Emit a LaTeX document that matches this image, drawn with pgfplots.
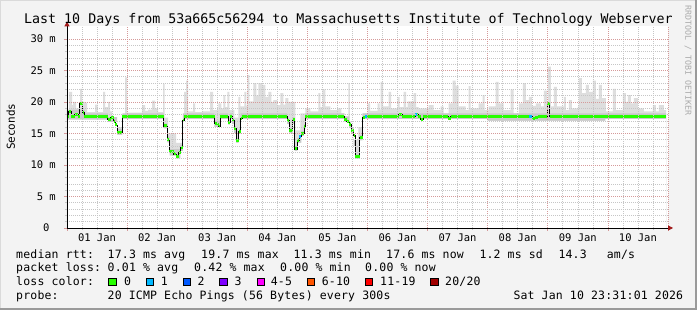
\documentclass[border=0pt]{standalone}
\usepackage{fontspec}
\setmainfont{DejaVu Sans Mono}
\newfontfamily\legfont[LetterSpace=1.6]{DejaVu Sans Mono}
\usepackage{pgfplots}
\usepackage{pgfplotstable}
\pgfplotsset{compat=1.18}
\usetikzlibrary{arrows.meta}
\definecolor{bg}{HTML}{F3F3F3}
\definecolor{shadea}{HTML}{DADADA}
\definecolor{shadeb}{HTML}{9A9A9A}
\definecolor{mgrid}{HTML}{D59A9A}
\definecolor{gridc}{HTML}{C6C6C6}
\definecolor{smoke}{HTML}{DEDEDE}
\definecolor{smokemid}{HTML}{C9C9C9}
\definecolor{arrowred}{HTML}{A01818}
\definecolor{wm}{HTML}{ABABAB}
\definecolor{lc0}{HTML}{26FF00}
\definecolor{lc1}{HTML}{00B8FF}
\definecolor{lc2}{HTML}{0059FF}
\definecolor{lc3}{HTML}{7E00FF}
\definecolor{lc4}{HTML}{FF00FF}
\definecolor{lc6}{HTML}{FF5500}
\definecolor{lc11}{HTML}{FF0000}
\definecolor{lc20}{HTML}{A10000}

\pgfplotstableread{
h v
0 18.7
0.8 21.6
2.0 19.5
2.4 20.0
3.6 19.0
5.2 22.1
6.0 20.0
7.2 19.9
8.0 18.4
11.2 19.6
12.2 18.4
14.4 21.6
15.2 19.2
16.4 20.0
17.2 18.5
18.0 17.6
19.2 16.0
22.0 18.0
23.2 23.9
24.0 18.3
30.0 19.5
31.2 18.6
32.4 18.8
34.0 20.2
35.2 19.0
36.4 18.4
38.4 22.9
39.0 17.5
40.4 15.0
43.6 13.5
46.0 16.5
46.8 21.6
47.6 23.4
48.4 18.5
50.4 19.8
51.2 18.4
54.4 18.5
57.2 21.6
58.4 18.7
60.4 19.8
61.6 19.0
62.4 21.1
63.2 19.2
64.0 21.6
64.8 18.7
66.8 17.5
68.4 20.8
69.2 19.3
70.8 21.6
71.6 19.4
72.0 24.3
72.8 20.1
74.4 23.0
75.6 21.0
76.4 23.0
78.0 22.7
79.2 20.8
80.4 21.6
81.6 20.0
82.4 20.3
84.0 19.5
85.2 21.4
86.4 19.6
87.2 20.6
88.4 20.0
91.2 15.5
93.2 18.2
95.2 19.0
97.2 18.5
100.4 21.4
101.2 19.2
102.0 22.0
103.2 19.3
105.2 18.7
108.0 19.0
109.6 18.2
110.8 17.4
112.4 23.0
113.0 16.0
114.4 14.0
116.4 16.0
118.0 18.2
120.0 19.8
121.0 18.6
124.0 19.8
124.8 18.8
125.2 23.2
126.2 19.3
128.4 21.6
129.4 19.0
132.0 20.8
132.8 19.2
134.4 21.6
135.4 19.2
136.0 20.1
138.4 21.4
139.4 19.2
140.4 19.0
144.4 19.5
146.4 18.7
149.2 19.3
150.4 18.2
152.4 19.8
154.0 23.4
155.2 22.6
156.4 19.3
159.2 18.7
160.4 22.5
161.2 19.0
164.4 19.8
166.0 21.1
166.8 18.7
168.4 19.3
171.2 23.2
172.4 19.8
174.4 18.7
177.2 22.0
178.4 18.2
180.4 19.8
182.0 23.0
183.2 20.3
184.4 20.8
185.6 19.4
187.2 19.8
189.2 19.3
190.4 21.8
191.6 19.5
192.0 25.6
193.2 19.3
194.4 22.4
195.6 19.3
198.4 20.8
199.2 18.7
200.4 20.3
201.6 19.0
204.0 19.3
204.4 23.8
205.6 21.4
207.2 22.7
208.4 21.6
210.0 23.4
211.2 20.5
212.4 22.7
213.6 20.6
215.2 18.5
218.0 22.1
219.2 18.7
222.0 21.4
223.2 20.0
224.0 21.1
225.2 19.8
226.4 20.6
228.0 19.0
230.4 18.5
234.0 19.5
235.2 18.5
236.4 19.5
238.4 18.7
239.2 18.7
}\smokehi

\pgfplotstableread{
h v
0 18.8
7.0 18.2
16.3 17.6
20.0 15.7
22.1 18.2
38.7 16.6
40.0 14.5
41.0 12.5
45.3 13.2
46.3 18.2
58.9 17.0
61.1 18.2
64.3 17.2
65.1 18.2
65.9 17.4
66.7 16.2
67.5 14.3
68.5 15.7
69.3 18.2
87.9 17.4
88.8 15.9
90.1 17.6
90.9 13.0
92.0 14.3
93.6 15.4
94.7 16.5
95.2 18.2
110.8 17.7
112.7 16.9
113.5 15.9
114.5 14.0
115.2 11.8
116.9 14.8
118.1 18.2
239.2 18.2
}\smokemid

\pgfplotstableread{
h v
0 17.2
16.3 16.8
20.0 14.8
22.1 17.3
38.7 15.8
40.0 13.6
41.0 11.5
43.6 11.0
45.3 12.2
46.3 17.3
58.9 16.0
61.1 17.3
64.3 16.4
65.1 17.3
65.9 16.5
66.7 15.0
67.5 13.5
68.5 14.9
69.3 17.3
87.9 16.5
88.8 15.0
90.1 16.5
90.9 12.2
92.0 13.5
93.6 14.6
94.7 15.7
95.2 17.3
110.8 16.8
112.7 15.9
113.5 15.0
114.5 13.0
115.2 11.0
116.9 13.9
118.1 17.3
168.0 17.0
215.0 17.3
239.2 17.3
}\smokelo

\pgfplotstableread{
h v
0 17.7
0.67 18.5
1.73 17.7
3.07 18.0
4.4 17.7
5.07 19.7
6.27 18.3
6.93 17.7
16.27 17.25
17.47 17.55
18.67 16.9
19.33 16.35
20.0 15.2
22.13 17.7
38.67 16.2
40.0 14.1
40.93 12.1
42.67 11.75
43.6 11.4
44.67 11.95
45.33 12.75
46.27 17.0
46.8 17.7
58.93 16.6
60.0 16.45
60.53 16.1
61.07 17.7
64.27 16.8
65.07 17.7
65.87 17.0
66.67 15.8
67.47 13.9
68.53 15.3
69.33 17.4
69.87 17.7
87.87 17.0
88.8 15.45
90.13 17.2
90.93 12.55
92.0 13.9
92.8 14.6
93.6 15.0
94.67 16.1
95.2 17.7
110.8 17.25
111.73 16.85
112.67 16.45
113.47 15.45
114.53 14.75
115.2 11.3
116.93 14.35
118.13 17.5
118.93 17.7
132.5 18.0
133.9 17.7
138.93 18.0
140.3 17.7
141.2 17.2
142.13 17.7
152.27 17.4
153.2 17.7
185.73 17.4
187.07 17.6
188.0 17.7
191.87 19.8
192.8 17.7
239.2 17.7
}\medtab

\begin{document}
\begin{tikzpicture}
\fill[bg] (0pt,0pt) rectangle (697pt,310pt);
\draw[shadea, line width=1pt] (0.5pt,0pt) -- (0.5pt,309.5pt) -- (697pt,309.5pt);
\draw[shadeb, line width=2pt] (0pt,1pt) -- (696pt,1pt) -- (696pt,310pt);
\begin{axis}[
  at={(67pt,82pt)}, anchor=south west,
  scale only axis, width=601pt, height=201.6pt,
  xmin=0, xmax=240, ymin=0, ymax=32,
  axis background/.style={fill=white},
  axis on top=true,
  axis x line=bottom, axis y line=left,
  x axis line style={draw=black, line width=0.8pt, shorten >=-5pt, -{Triangle[length=5pt,width=5pt,color=arrowred]}},
  y axis line style={draw=black, line width=0.8pt, shorten >=-5pt, -{Triangle[length=5pt,width=5pt,color=arrowred]}},
  xtick={0,24,...,240},
  xticklabels={01 Jan,02 Jan,03 Jan,04 Jan,05 Jan,06 Jan,07 Jan,08 Jan,09 Jan,10 Jan,{}},
  minor x tick num=3,
  ytick={0,5,...,30},
  yticklabels={0\hphantom{m},5 m,10 m,15 m,20 m,25 m,30 m},
  minor y tick num=4,
  grid=both,
  major grid style={draw=mgrid, dash pattern=on 1pt off 1pt, line width=0.7pt},
  minor grid style={draw=gridc, dash pattern=on 1pt off 1pt, line width=0.7pt},
  tick align=outside,
  major tick length=3pt, minor tick length=2pt,
  every major tick/.append style={draw=mgrid, line width=0.7pt},
  every minor tick/.append style={draw=gridc, line width=0.7pt},
  xticklabel style={font=\fontsize{10.5}{12}\selectfont, anchor=base, inner sep=0pt, xshift=30pt, yshift=-10.5pt},
  yticklabel style={font=\fontsize{10.5}{12}\selectfont, anchor=east, inner sep=0pt, xshift=-8pt},
]
\addplot[draw=none, fill=smoke, const plot] table[x=h,y=v] {\smokehi} \closedcycle;
\addplot[draw=none, fill=smokemid, const plot] table[x=h,y=v] {\smokemid} \closedcycle;
\addplot[draw=none, fill=white, const plot] table[x=h,y=v] {\smokelo} \closedcycle;
\addplot[black, line width=0.8pt, const plot] table[x=h,y=v] {\medtab};
\addplot[lc0, line width=3pt, jump mark left] table[x=h,y=v] {\medtab};
\addplot[lc1, line width=3pt] coordinates {(92.8,14.6) (93.6,14.6)};
\addplot[lc1, line width=3pt] coordinates {(118.93,17.7) (119.6,17.7)};
\addplot[lc1, line width=3pt] coordinates {(138.93,18.0) (139.8,18.0)};
\addplot[lc1, line width=3pt] coordinates {(184.6,17.7) (185.6,17.7)};
\end{axis}
% title
\node[font=\fontsize{13.3}{15}\selectfont, anchor=base] at (348.5pt,286pt) {Last 10 Days from 53a665c56294 to Massachusetts Institute of Technology Webserver};
% y label
\node[font=\fontsize{11}{13}\selectfont, rotate=90, anchor=base] at (15pt,183.3pt) {Seconds};
% watermark
\node[font=\fontsize{8.3}{10}\selectfont, rotate=-90, anchor=west, text=wm, inner sep=0pt] at (688pt,305pt) {RRDTOOL / TOBI OETIKER};
% legend
\begin{scope}[every node/.style={font=\legfont\fontsize{11.5}{13}\selectfont, anchor=base west, inner sep=0pt}]
\node at (16pt,51.7pt) {median rtt:};
\node at (107.5pt,51.7pt) {17.3 ms avg};
\node at (201pt,51.7pt) {19.7 ms max};
\node at (293.3pt,51.7pt) {11.3 ms min};
\node at (386pt,51.7pt) {17.6 ms now};
\node at (479.3pt,51.7pt) {1.2 ms sd};
\node at (558.3pt,51.7pt) {14.3};
\node at (606.7pt,51.7pt) {am/s};
\node at (16pt,38.3pt) {packet loss:};
\node at (107.5pt,38.3pt) {0.01 \% avg};
\node at (194pt,38.3pt) {0.42 \% max};
\node at (280pt,38.3pt) {0.00 \% min};
\node at (365pt,38.3pt) {0.00 \% now};
\node at (16pt,24pt) {loss color:};
\node at (124pt,24pt) {0};
\node at (160.7pt,24pt) {1};
\node at (197.3pt,24pt) {2};
\node at (234.3pt,24pt) {3};
\node at (270.7pt,24pt) {4-5};
\node at (321.7pt,24pt) {6-10};
\node at (380pt,24pt) {11-19};
\node at (445pt,24pt) {20/20};
\node at (16pt,10pt) {probe:};
\node at (107.5pt,10pt) {20 ICMP Echo Pings (56 Bytes) every 300s};
\node at (513.3pt,10pt) {Sat Jan 10 23:31:01 2026};
\end{scope}
\foreach \xx/\cc in {108.5/lc0,145.9/lc1,182.9/lc2,219.5/lc3,256.9/lc4,307.2/lc6,365.2/lc11,430.3/lc20}{
  \filldraw[fill=\cc, draw=black, line width=0.7pt] (\xx pt,24.3pt) rectangle +(7.6pt,7.6pt);
}
\pgfresetboundingbox
\path[use as bounding box] (0pt,0pt) rectangle (697pt,310pt);
\end{tikzpicture}
\end{document}
